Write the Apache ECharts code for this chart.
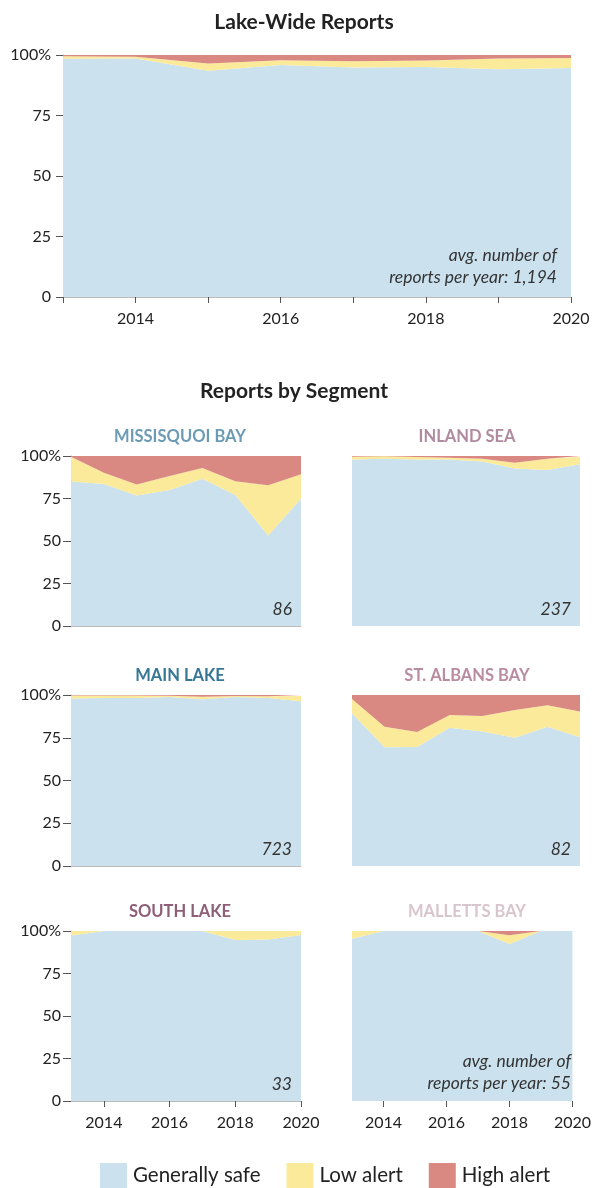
<!DOCTYPE html>
<html>
<head>
<meta charset="utf-8">
<script src="https://cdn.jsdelivr.net/npm/echarts@6/dist/echarts.min.js"></script>
<style>
  html, body { margin: 0; padding: 0; background: #fff; }
  #chart { width: 594px; height: 1188px; }
</style>
</head>
<body>
<div id="chart"></div>
<script>
// years and ticks
var years = ['2013', '2014', '2015', '2016', '2017', '2018', '2019', '2020'];
var yTicks = [0, 25, 50, 75, 100];
var seriesNames = ['Generally safe', 'Low alert', 'High alert'];

// lake-wide (percent of reports)
var lakeSafe = [98.4, 98.6, 93.5, 95.9, 94.8, 95.0, 94.1, 94.6];
var lakeLow  = [1.1, 0.7, 3.0, 1.9, 2.6, 2.7, 4.5, 4.2];
var lakeHigh = [0.5, 0.7, 3.5, 2.2, 2.6, 2.3, 1.4, 1.2];

// segments
var missSafe = [85.0, 83.6, 76.7, 80.0, 86.6, 77.0, 53.3, 75.0];
var missLow  = [14.6, 6.5, 6.5, 8.2, 6.3, 8.2, 29.5, 14.2];
var missHigh = [0.4, 9.9, 16.8, 11.8, 7.1, 14.8, 17.2, 10.8];

var inlandSafe = [98.0, 98.4, 98.0, 98.0, 96.7, 92.7, 91.7, 95.1];
var inlandLow  = [1.6, 1.4, 1.4, 1.0, 1.7, 3.4, 6.7, 4.5];
var inlandHigh = [0.4, 0.2, 0.6, 1.0, 1.6, 3.9, 1.6, 0.4];

var mainSafe = [98.0, 98.3, 98.3, 98.8, 97.5, 98.8, 98.3, 96.4];
var mainLow  = [1.7, 1.4, 1.4, 0.8, 1.5, 0.6, 1.0, 3.0];
var mainHigh = [0.3, 0.3, 0.3, 0.4, 1.0, 0.6, 0.7, 0.6];

var albansSafe = [89.3, 69.4, 69.6, 80.9, 78.6, 75.0, 81.5, 75.3];
var albansLow  = [8.4, 12.1, 8.8, 7.4, 9.1, 16.2, 12.5, 15.0];
var albansHigh = [2.3, 18.5, 21.6, 11.7, 12.3, 8.8, 6.0, 9.7];

var southSafe = [97.4, 100, 100, 100, 100, 94.7, 95.0, 97.6];
var southLow  = [2.6, 0, 0, 0, 0, 5.3, 5.0, 2.4];
var southHigh = [0, 0, 0, 0, 0, 0, 0, 0];

var mallettsSafe = [95.5, 100, 100, 100, 100, 92.4, 100, 100];
var mallettsLow  = [4.5, 0, 0, 0, 0, 5.1, 0, 0];
var mallettsHigh = [0, 0, 0, 0, 0, 2.5, 0, 0];

var segNames  = ['MISSISQUOI BAY', 'INLAND SEA', 'MAIN LAKE', 'ST. ALBANS BAY', 'SOUTH LAKE', 'MALLETTS BAY'];
var segCounts = ['86', '237', '723', '82', '33', '55'];
var lakeCount = '1,194';

var FONT = 'Lato';
var colors = ['#cbe2ee', '#fbea99', '#d98882'];
var segColors = ['#6b9bb5', '#b08b9f', '#357896', '#b98ca1', '#8d5f77', '#d9c5cd'];

// panel layout: [left, top, width, height]
var panels = [
  [63, 55, 508, 242],
  [71, 456, 230, 170], [352, 456, 228, 170],
  [71, 695, 230, 171], [352, 695, 228, 171],
  [71, 931, 230, 170], [352, 931, 228, 170]
];
var panelData = [
  [lakeSafe, lakeLow, lakeHigh],
  [missSafe, missLow, missHigh],
  [inlandSafe, inlandLow, inlandHigh],
  [mainSafe, mainLow, mainHigh],
  [albansSafe, albansLow, albansHigh],
  [southSafe, southLow, southHigh],
  [mallettsSafe, mallettsLow, mallettsHigh]
];

function evenYear(idx, val){ return Number(val) % 2 === 0; }

var grids = [], xAxes = [], yAxes = [], series = [], titles = [], graphics = [];

panels.forEach(function(p, k){
  var isLeft = (k === 0) || (k % 2 === 1);
  var showX = (k === 0 || k >= 5);
  grids.push({ left: p[0], top: p[1], width: p[2], height: p[3] });
  xAxes.push({
    type: 'category', gridIndex: k, data: years, boundaryGap: false,
    axisLine: { show: isLeft, lineStyle: { color: '#bbb' } },
    splitLine: { show: false },
    axisTick: { show: showX, length: 6, alignWithLabel: true,
      interval: k === 0 ? 0 : evenYear, lineStyle: { color: '#555' } },
    axisLabel: { show: showX, interval: evenYear, margin: 14, color: '#222',
      fontFamily: FONT, fontSize: 16 }
  });
  yAxes.push({
    type: 'value', gridIndex: k, min: 0, max: 100, interval: 25,
    axisLine: { show: isLeft, lineStyle: { color: '#bbb' } },
    axisTick: { show: isLeft, length: k === 0 ? 7 : 8, lineStyle: { color: '#555' } },
    splitLine: { show: false },
    axisLabel: { show: isLeft, margin: k === 0 ? 12 : 10, color: '#222', fontFamily: FONT, fontSize: 16,
      formatter: function(v){ return v === 100 ? '100%' : String(v); } }
  });
  panelData[k].forEach(function(vals, j){
    series.push({
      name: seriesNames[j], type: 'line', xAxisIndex: k, yAxisIndex: k,
      stack: 'p' + k, symbol: 'none', smooth: false,
      lineStyle: { width: 0 },
      areaStyle: { color: colors[j], opacity: 1 },
      itemStyle: { color: colors[j] },
      emphasis: { disabled: true },
      data: vals
    });
  });
});

// headings
titles.push({ text: 'Lake-Wide Reports', left: 304, top: 12, padding: 0, textAlign: 'center',
  textStyle: { fontFamily: FONT, fontSize: 21, fontWeight: 'bold', color: '#222' } });
titles.push({ text: 'Reports by Segment', left: 294, top: 381, padding: 0, textAlign: 'center',
  textStyle: { fontFamily: FONT, fontSize: 21, fontWeight: 'bold', color: '#222' } });
segNames.forEach(function(name, i){
  var p = panels[i + 1];
  titles.push({ text: name, left: (i % 2 === 0) ? 180 : 467, top: p[1] - 28, padding: 0, textAlign: 'center',
    textStyle: { fontFamily: FONT, fontSize: 16.5, fontWeight: 'bold', color: segColors[i] } });
});

// report counts
function note(x, y, txt){
  graphics.push({ type: 'text', x: x, y: y, z: 100,
    style: { text: txt, align: 'right', verticalAlign: 'middle',
      fontStyle: 'italic', fontSize: 17.5, fontFamily: FONT, fill: '#333' } });
}
note(557, 255, 'avg. number of');
note(557, 277, 'reports per year: ' + lakeCount);
segCounts.forEach(function(c, i){
  var p = panels[i + 1];
  var right = p[0] + p[2] - 9;
  if (i === 5) {
    note(right, p[1] + p[3] - 40, 'avg. number of');
    note(right, p[1] + p[3] - 18, 'reports per year: ' + c);
  } else {
    note(right, p[1] + p[3] - 17, c);
  }
});

var chart = echarts.init(document.getElementById('chart'), null, { renderer: 'canvas' });
chart.setOption({
  animation: false,
  backgroundColor: '#fff',
  title: titles,
  grid: grids,
  xAxis: xAxes,
  yAxis: yAxes,
  series: series,
  graphic: graphics,
  legend: {
    data: seriesNames, left: 100, top: 1163, padding: 0, icon: 'rect',
    itemWidth: 27, itemHeight: 25, itemGap: 26,
    textStyle: { fontFamily: FONT, fontSize: 20.5, color: '#222', padding: [0, 0, 0, 1] },
    selectedMode: false
  }
});
</script>
</body>
</html>
